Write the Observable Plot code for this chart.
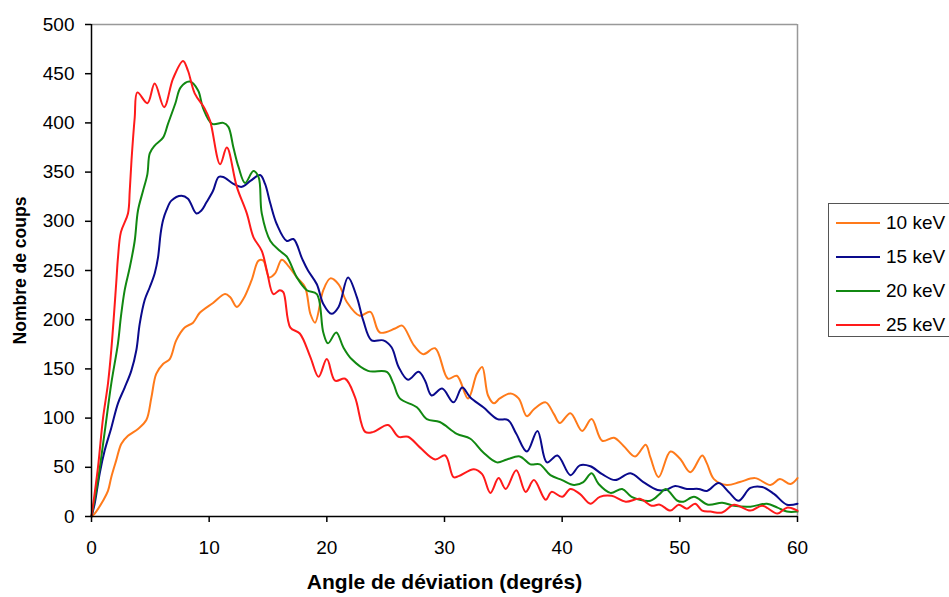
<!DOCTYPE html>
<html><head><meta charset="utf-8">
<script src="https://cdn.jsdelivr.net/npm/d3@7"></script>
<script src="https://cdn.jsdelivr.net/npm/@observablehq/plot@0.6"></script>
<style>
body{margin:0;background:#fff;font-family:"Liberation Sans",Arial,sans-serif;}
#wrap{position:relative;width:949px;height:597px;overflow:hidden;}
#legend{position:absolute;left:828px;top:203px;width:140px;height:134px;border:1.5px solid #555;box-sizing:border-box;background:#fff;}
.li{position:absolute;left:7px;height:20px;display:flex;align-items:center;font-size:19px;color:#000;white-space:nowrap;}
.li span.sw{display:inline-block;width:44px;height:2px;margin-right:6px;}
[aria-label="x-axis label"] text{font-weight:bold;font-size:21px;}
[aria-label="y-axis label"] text{font-weight:bold;font-size:17.5px;}
</style></head>
<body><div id="wrap"><div id="chart"></div><div id="legend"></div></div>
<script>
const seriesNames = ["10 keV","15 keV","20 keV","25 keV"];
const seriesColors = ["#ff7a1a","#0a0a8c","#118811","#ff1a1a"];
const xTicks = [0,10,20,30,40,50,60];
const yTicks = [0,50,100,150,200,250,300,350,400,450,500];

const x10 = [0,0.27,0.98,1.4,1.68,2.1,2.54,3.1,3.95,4.66,5.09,5.5,6.08,6.65,7.2,7.92,8.63,9.2,10.33,11.35,11.78,12.35,12.9,13.6,14.2,14.6,15.1,15.6,16.17,16.7,17.45,18.15,18.6,19.0,19.7,20.3,21.0,21.7,22.8,23.7,24.5,25.8,26.4,27.4,28.2,29.2,30.3,31.05,32.0,32.75,33.2,33.7,34.2,34.7,35.6,36.3,37.0,37.6,38.6,39.3,39.8,40.7,41.7,42.5,43.4,44.4,45.2,46.2,47.1,47.5,48.2,49.2,50.0,50.9,51.9,52.3,52.9,54.0,55.1,56.4,57.7,58.5,59.4,60];
const y10 = [0,3,16,26,40,57,74,82,89,98,121,145,155,160,179,192,197,207,217,226,223,213,221,240,260,260,243,247,261,255,243,233,206,197,230,242,236,218,204,208,187,191,194,174,165,171,140,143,120,145,152,123,115,120,125,120,102,109,116,104,95,105,87,99,77,80,72,61,73,60,40,66,59,45,62,54,38,32,35,39,32,38,33,39];

const x15 = [0,0.27,0.7,1.12,1.68,2.25,2.82,3.38,3.81,4.1,4.52,4.95,5.37,5.65,5.88,6.08,6.36,6.79,7.64,8.2,8.91,9.34,9.76,10.33,10.8,11.2,12.06,12.77,13.5,14.33,14.75,15.2,15.75,16.6,17.16,17.9,18.4,19.15,19.7,20.4,21.0,21.8,22.55,23.1,23.8,24.8,25.5,26.1,26.9,27.8,28.35,28.9,29.8,30.77,31.5,32.2,33.3,34.5,35.4,36.1,37.0,37.9,38.7,39.6,40.7,41.5,42.4,43.4,44.5,45.8,46.9,48.1,48.8,49.6,50.6,51.6,52.3,53.3,54.15,55.0,56.0,57.0,58.0,59.1,60];
const y15 = [0,13,44,67,90,115,131,148,169,196,220,233,247,263,288,301,311,321,326,323,308,311,319,331,345,345,338,335,341,347,338,318,297,280,282,262,250,236,216,206,213,243,223,199,179,179,172,152,139,147,138,123,130,116,131,121,111,99,98,84,66,87,55,62,42,52,51,43,37,44,35,27,27,31,28,28,26,34,25,16,29,30,23,12,13];

const x20 = [0,0.55,1.1,1.68,2.25,2.5,2.82,3.25,3.67,3.95,4.38,4.75,4.95,5.37,6.08,6.5,7.13,7.58,8.35,9.06,9.48,10.25,11.2,11.63,12.06,12.5,13.05,13.76,14.2,14.47,15.2,16.0,16.6,17.45,18.3,19.15,19.7,20.1,20.8,21.4,22.1,23.5,25.1,25.66,26.2,27.65,28.5,29.6,31.05,32.2,33.3,34.45,35.3,36.4,37.3,38.1,39.0,40.0,41.0,41.8,42.5,43.1,44.1,45.1,45.9,47.5,48.3,48.8,49.8,50.3,51.2,52.4,53.6,54.6,56.0,57.4,58.3,59.1,60];
const y20 = [0,37,84,135,176,203,230,253,280,311,331,348,369,377,385,399,420,436,442,433,415,399,400,396,375,355,339,351,345,308,280,270,264,243,230,226,187,176,187,172,160,148,147,135,120,111,99,96,84,79,65,55,58,61,53,53,42,37,32,35,44,33,24,28,20,16,23,28,16,15,20,12,14,11,10,13,9,5,5];

const x25 = [0,0.55,0.98,1.4,1.68,2.1,2.25,2.5,3.1,3.25,3.4,3.67,3.9,4.75,5.37,6.17,6.93,7.78,8.2,8.77,9.6,10.08,10.93,11.5,12.35,13.2,13.76,14.47,14.9,15.46,16.0,16.3,16.9,17.7,18.6,19.3,20.0,20.7,21.56,22.4,23.26,23.96,25.2,26.1,26.9,27.93,29.2,30.06,30.77,31.2,32.5,33.2,33.9,34.6,35.2,36.1,36.9,37.6,38.6,39.1,40.0,40.7,41.5,42.4,43.2,44.2,45.4,46.6,47.6,48.3,49.2,49.9,50.6,51.3,51.9,52.6,53.6,54.6,56.0,57.0,58.3,59.1,60];
const y25 = [0,50,100,135,169,237,263,289,308,331,362,405,431,420,440,416,445,463,453,430,415,402,358,375,335,308,284,270,250,226,230,228,192,186,162,142,160,138,140,121,86,86,93,81,81,70,58,62,40,41,48,43,24,39,28,47,25,37,17,25,20,28,23,13,20,21,15,18,11,12,6,12,8,13,6,5,4,12,6,11,3,9,6];

const xs = [x10,x15,x20,x25], ys = [y10,y15,y20,y25];
const rows = [];
seriesNames.forEach((s,i)=>xs[i].forEach((x,j)=>rows.push({series:s, x, y: ys[i][j]})));

const chart = Plot.plot({
  width: 949, height: 597,
  marginLeft: 91, marginRight: 152, marginTop: 24, marginBottom: 81,
  style: {fontFamily: '"Liberation Sans", Arial, sans-serif', fontSize: "19px", color: "#000", background: "#fff"},
  x: {domain: [0,60]},
  y: {domain: [0,500]},
  color: {domain: seriesNames, range: seriesColors},
  marks: [
    Plot.ruleY([500], {stroke: "#999", strokeWidth: 1.5}),
    Plot.ruleX([60], {stroke: "#999", strokeWidth: 1.5}),
    Plot.line(rows, {x: "x", y: "y", z: "series", stroke: "series", strokeWidth: 2, curve: "catmull-rom"}),
    Plot.axisX(xTicks, {tickSize: 6, tickPadding: 18, stroke: "#000", strokeWidth: 1.5, fontSize: 19,
      label: "Angle de déviation (degrés)", labelAnchor: "center", labelOffset: 72, labelArrow: "none"}),
    Plot.axisY(yTicks, {tickSize: 6, tickPadding: 11, stroke: "#000", strokeWidth: 1.5, fontSize: 19,
      label: "Nombre de coups", labelAnchor: "center", labelOffset: 78, labelArrow: "none"}),
    Plot.ruleX([0], {stroke: "#000", strokeWidth: 1.5}),
    Plot.ruleY([0], {stroke: "#000", strokeWidth: 1.5})
  ]
});
document.getElementById("chart").appendChild(chart);

const lg = document.getElementById("legend");
const tops = [9, 43, 77, 111];
seriesNames.forEach((s,i)=>{
  const d = document.createElement("div");
  d.className = "li"; d.style.top = tops[i] + "px";
  d.innerHTML = `<span class="sw" style="background:${seriesColors[i]}"></span>${s}`;
  lg.appendChild(d);
});
</script></body></html>
